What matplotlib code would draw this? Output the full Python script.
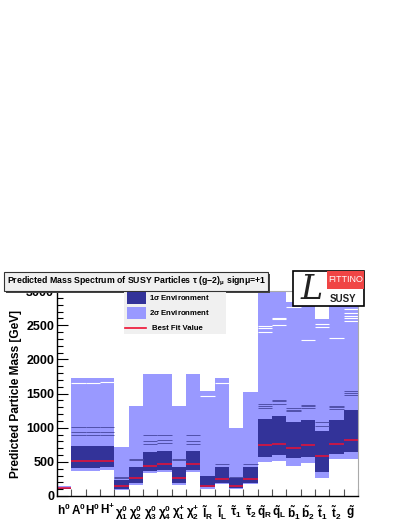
import numpy as np
import matplotlib
matplotlib.use('Agg')
import matplotlib.pyplot as plt
from matplotlib.patches import Rectangle
from matplotlib.lines import Line2D

plt.rcParams['font.family'] = ['Liberation Sans', 'DejaVu Sans']
plt.rcParams['mathtext.fontset'] = 'custom'
plt.rcParams['mathtext.rm'] = 'Liberation Sans:bold'
plt.rcParams['mathtext.it'] = 'Liberation Sans:bold'
plt.rcParams['mathtext.bf'] = 'Liberation Sans:bold'
plt.rcParams['mathtext.default'] = 'rm'

# particles (x categories)
labels = [r'$h^{0}$', r'$A^{0}$', r'$H^{0}$', r'$H^{+}$',
          r'$\chi^{0}_{1}$', r'$\chi^{0}_{2}$', r'$\chi^{0}_{3}$', r'$\chi^{0}_{4}$',
          r'$\chi^{+}_{1}$', r'$\chi^{+}_{2}$',
          r'$\tilde{l}_{R}$', r'$\tilde{l}_{L}$', r'$\tilde{\tau}_{1}$', r'$\tilde{\tau}_{2}$',
          r'$\tilde{q}_{R}$', r'$\tilde{q}_{L}$', r'$\tilde{b}_{1}$', r'$\tilde{b}_{2}$',
          r'$\tilde{t}_{1}$', r'$\tilde{t}_{2}$', r'$\tilde{g}$']

# mass ranges in GeV
sig2_lo = [98, 360, 360, 375, 88, 162, 333, 348, 162, 348, 103, 176, 103, 176, 500, 514, 445, 490, 260, 544, 540]
sig2_hi = [140, 1720, 1720, 1730, 711, 1323, 1779, 1789, 1323, 1789, 1543, 1720, 995, 1524, 3200, 3200, 2833, 3200, 2597, 3200, 3200]
sig1_lo = [98, 416, 416, 425, 103, 196, 368, 382, 196, 382, 128, 187, 113, 187, 578, 603, 554, 578, 357, 617, 651]
sig1_hi = [118, 735, 735, 735, 235, 431, 651, 661, 431, 661, 294, 431, 265, 431, 1127, 1176, 1078, 1117, 945, 1117, 1264]
best_fit = [112, 510, 510, 510, 147, 265, 446, 470, 265, 470, 147, 245, 151, 245, 740, 760, 701, 740, 588, 760, 823]

# thin dark bins sitting inside the 2 sigma band (particle index, mass)
dark_bins = [(1, 1004), (1, 930), (1, 897), (2, 1004), (2, 930), (2, 897),
             (3, 1015), (3, 930), (3, 897), (4, 284), (4, 270),
             (5, 540), (5, 520), (6, 886), (6, 808), (6, 764),
             (7, 900), (7, 818), (7, 770), (8, 540), (8, 520),
             (9, 886), (9, 808), (9, 764), (11, 466), (12, 284), (13, 466),
             (14, 1352), (14, 1323), (14, 1289), (15, 1411), (15, 1387), (15, 1352),
             (16, 1289), (16, 1265), (16, 1240), (17, 1338), (17, 1313), (17, 1289),
             (18, 1078), (18, 1019), (19, 1323), (19, 1299), (19, 1275),
             (20, 1533), (20, 1509), (20, 1474)]
# empty bins (gaps) inside the 2 sigma band
gap_bins = [(1, 1660), (2, 1660), (3, 1670), (10, 1460), (11, 1657),
            (14, 2489), (14, 2465), (14, 2406), (15, 2612), (15, 2583), (15, 2504),
            (16, 2760), (17, 2290), (18, 2514), (18, 2480), (19, 2308),
            (20, 2734), (20, 2685), (20, 2636), (20, 2612), (20, 2563)]

light = '#9999ff'
dark = '#333399'
red = '#ee1133'

W, H = 407, 527
def px(x, y):
    return x / W, 1 - y / H

fig = plt.figure(figsize=(4.07, 5.27), dpi=100)
ax = fig.add_axes([57 / W, 31 / H, 301 / W, 205 / H])

x = np.arange(len(labels))
ax.bar(x, np.array(sig2_hi) - np.array(sig2_lo), bottom=sig2_lo, width=1.0, color=light, lw=0)
ax.bar(x, np.array(sig1_hi) - np.array(sig1_lo), bottom=sig1_lo, width=1.0, color=dark, lw=0)
for i, m in dark_bins:
    ax.hlines(m, i - 0.5, i + 0.5, color='#5050aa', lw=0.7)
for i, m in gap_bins:
    ax.hlines(m, i - 0.5, i + 0.5, color='white', lw=0.8)
ax.hlines(best_fit, x - 0.5, x + 0.5, color=red, lw=1.1)

ax.set_xlim(-0.5, len(labels) - 0.5)
ax.set_ylim(0, 3000)
ax.set_xticks(x)
ax.set_xticklabels(labels, fontsize=8.5)
ax.set_xticks(np.arange(len(labels) + 1) - 0.5, minor=True)
ax.tick_params(axis='x', which='major', length=0, pad=5)
ax.tick_params(axis='x', which='minor', direction='in', length=5, width=0.8, color='#555555')
ax.set_yticks(np.arange(0, 3001, 500))
ax.set_yticks(np.arange(0, 3001, 100), minor=True)
ax.tick_params(axis='y', which='major', direction='in', length=8, width=0.8, pad=2, labelsize=9)
ax.tick_params(axis='y', which='minor', direction='in', length=4, width=0.8)
for lab in ax.get_yticklabels():
    lab.set_fontweight('bold')
ax.set_ylabel('Predicted Particle Mass [GeV]', fontsize=8.6, fontweight='bold', labelpad=3)
ax.spines['left'].set_linewidth(1.0)
ax.spines['bottom'].set_linewidth(1.0)
ax.spines['right'].set_color('#aaaaaa')
ax.spines['top'].set_color('#aaaaaa')

# title pave with shadow
x0, y0 = px(4, 291)
x1, y1 = px(268, 272)
fig.patches.append(Rectangle((x0 + 2 / W, y0 - 2 / H), x1 - x0, y1 - y0, transform=fig.transFigure,
                             facecolor='#444444', edgecolor='none', zorder=5))
fig.patches.append(Rectangle((x0, y0), x1 - x0, y1 - y0, transform=fig.transFigure,
                             facecolor='#f0f0f0', edgecolor='#333333', lw=0.8, zorder=6))
tx, ty = px(137, 281.5)
fig.text(tx, ty, r'Predicted Mass Spectrum of SUSY Particles $\tau$ (g$-$2)$_{\mu}$ sign$\mu$=+1',
         ha='center', va='center', fontsize=6.3, fontweight='bold', zorder=7)

# legend
lx0, ly0 = px(124, 334)
lx1, ly1 = px(226, 289)
fig.patches.append(Rectangle((lx0, ly0), lx1 - lx0, ly1 - ly0, transform=fig.transFigure,
                             facecolor='#f0f0f0', edgecolor='none', zorder=5))
for yy, col, txt in [(298, dark, r'1$\sigma$ Environment'), (312.5, light, r'2$\sigma$ Environment')]:
    bx, by = px(127, yy + 6)
    fig.patches.append(Rectangle((bx, by), 19 / W, 12 / H, transform=fig.transFigure,
                                 facecolor=col, edgecolor='none', zorder=6))
    fx, fy = px(149, yy)
    fig.text(fx, fy, txt, fontsize=5.6, fontweight='bold', va='center', zorder=7)
rx0, ry = px(125, 328)
rx1, _ = px(146, 328)
fig.lines.append(Line2D([rx0, rx1], [ry, ry], transform=fig.transFigure, color=red, lw=1.2, zorder=6))
fx, fy = px(152, 328)
fig.text(fx, fy, 'Best Fit Value', fontsize=5.6, fontweight='bold', va='center', zorder=7)

# Fittino logo
gx0, gy0 = px(293, 306)
gx1, gy1 = px(364, 271)
fig.patches.append(Rectangle((gx0, gy0), gx1 - gx0, gy1 - gy0, transform=fig.transFigure,
                             facecolor='white', edgecolor='black', lw=1.2, zorder=5))
kx0, ky0 = px(327, 289)
fig.patches.append(Rectangle((kx0, ky0), gx1 - kx0, gy1 - ky0, transform=fig.transFigure,
                             facecolor='#f04545', edgecolor='none', zorder=6))
fx, fy = px(345.5, 280)
fig.text(fx, fy, 'FITTINO', color='white', fontsize=6.5, ha='center', va='center',
         fontstretch='condensed', zorder=7)
fx, fy = px(343, 299)
fig.text(fx, fy, 'SUSY', color='#222222', fontsize=7, fontweight='bold', ha='center', va='center', zorder=7)
fx, fy = px(312, 290)
fig.text(fx, fy, 'L', family='DejaVu Serif', style='italic', fontsize=24, color='#222222',
         ha='center', va='center', zorder=7)

fig.savefig('out.png', dpi=100)
